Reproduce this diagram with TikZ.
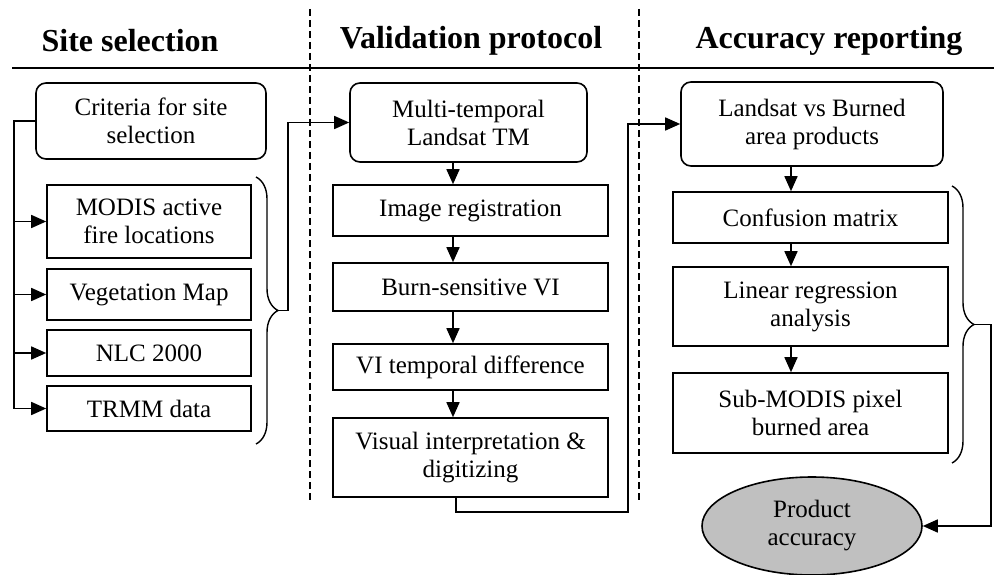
\documentclass[tikz,border=0pt]{standalone}
\usepackage{fontspec}
\setmainfont{Liberation Serif}
\usetikzlibrary{arrows.meta,shapes.geometric,decorations.pathreplacing}
\begin{document}
\begin{tikzpicture}[x=1pt,y=-1pt,
  every node/.style={font=\fontsize{25}{28}\selectfont, align=center, inner sep=0pt},
  rbox/.style={draw, line width=1.6pt, rounded corners=10pt},
  sbox/.style={draw, line width=1.6pt},
  title/.style={font=\fontsize{32}{36}\selectfont\bfseries},
  conn/.style={line width=1.6pt},
  arr/.style={line width=1.6pt, -{Triangle[length=15pt,width=13pt]}},
  dsh/.style={line width=1.4pt, dash pattern=on 7pt off 4pt},
  brc/.style={line width=1.4pt, decorate, decoration={brace, amplitude=22pt}}]
\useasboundingbox (0,0) rectangle (994,575);
% headers
\node[title] (t1) at (130,41) {Site selection};
\node[title] (t2) at (471,41) {Validation protocol};
\node[title] (t3) at (829,41) {Accuracy reporting};
\coordinate (hl) at (12,68);
\coordinate (hr) at (994,68);
\draw[line width=1.6pt] (hl) -- (hr);
\coordinate (d1a) at (310,9); \coordinate (d1b) at (310,503);
\coordinate (d2a) at (639,9); \coordinate (d2b) at (639,503);
\draw[dsh] (d1a) -- (d1b);
\draw[dsh] (d2a) -- (d2b);
% left column
\node[rbox, minimum width=230pt, minimum height=76pt] (crit) at (151,121) {Criteria for site\\selection};
\node[sbox, minimum width=204pt, minimum height=73pt] (modis) at (149,221.5) {MODIS active\\fire locations};
\node[sbox, minimum width=204pt, minimum height=51pt] (veg) at (149,294.5) {Vegetation Map};
\node[sbox, minimum width=204pt, minimum height=46pt] (nlc) at (149,353) {NLC 2000};
\node[sbox, minimum width=204pt, minimum height=45pt] (trmm) at (149,408.5) {TRMM data};
\coordinate (b0) at (14,121);
\draw[arr] (crit.west) -- (b0) |- (trmm.west);
\draw[arr] (b0 |- modis.west) -- (modis.west);
\draw[arr] (b0 |- veg.west) -- (veg.west);
\draw[arr] (b0 |- nlc.west) -- (nlc.west);
\coordinate (br1a) at (256,177);
\coordinate (br1b) at (256,444);
\coordinate (br1t) at (278,310.5);
\draw[brc] (br1a) -- (br1b);
% middle column
\node[rbox, minimum width=237pt, minimum height=79pt] (multi) at (468.5,122.5) {Multi-temporal\\Landsat TM};
\node[sbox, minimum width=275pt, minimum height=51pt] (imreg) at (470.5,210.5) {Image registration};
\node[sbox, minimum width=275pt, minimum height=48pt] (burn) at (470.5,287) {Burn-sensitive VI};
\node[sbox, minimum width=275pt, minimum height=46pt] (vitd) at (470.5,367) {VI temporal difference};
\node[sbox, minimum width=275pt, minimum height=79pt] (visual) at (470.5,457.5) {Visual interpretation \&\\digitizing};
\coordinate (c0) at (288,310.5);
\draw[arr] (br1t) -- (c0) |- (multi.west);
\coordinate (ax) at (453,0);
\draw[arr] (multi.south -| ax) -- (imreg.north -| ax);
\draw[arr] (imreg.south -| ax) -- (burn.north -| ax);
\draw[arr] (burn.south -| ax) -- (vitd.north -| ax);
\draw[arr] (vitd.south -| ax) -- (visual.north -| ax);
% right column
\node[rbox, minimum width=262pt, minimum height=84pt] (landsat) at (812,124) {Landsat vs Burned\\area products};
\node[sbox, minimum width=275pt, minimum height=51pt] (conf) at (810.5,217.5) {Confusion matrix};
\node[sbox, minimum width=275pt, minimum height=79pt] (linear) at (810.5,306.5) {Linear regression\\analysis};
\node[sbox, minimum width=275pt, minimum height=80pt] (sub) at (810.5,413) {Sub-MODIS pixel\\burned area};
\node[draw, ellipse, line width=1.6pt, fill={rgb,255:red,192;green,192;blue,192}, minimum width=220pt, minimum height=98pt] (prod) at (812,526) {Product\\accuracy};
\coordinate (ax2) at (456,0);
\coordinate (c1) at (628,512);
\draw[arr] (visual.south -| ax2) |- (c1) |- (landsat.west);
\coordinate (ax3) at (791,0);
\draw[arr] (landsat.south -| ax3) -- (conf.north -| ax3);
\draw[arr] (conf.south -| ax3) -- (linear.north -| ax3);
\draw[arr] (linear.south -| ax3) -- (sub.north -| ax3);
\coordinate (br2a) at (952,186);
\coordinate (br2b) at (952,463);
\coordinate (br2t) at (974,324.5);
\draw[brc] (br2a) -- (br2b);
\coordinate (c2) at (991,324.5);
\draw[arr] (br2t) -- (c2) |- (prod.east);
\end{tikzpicture}
\end{document}
